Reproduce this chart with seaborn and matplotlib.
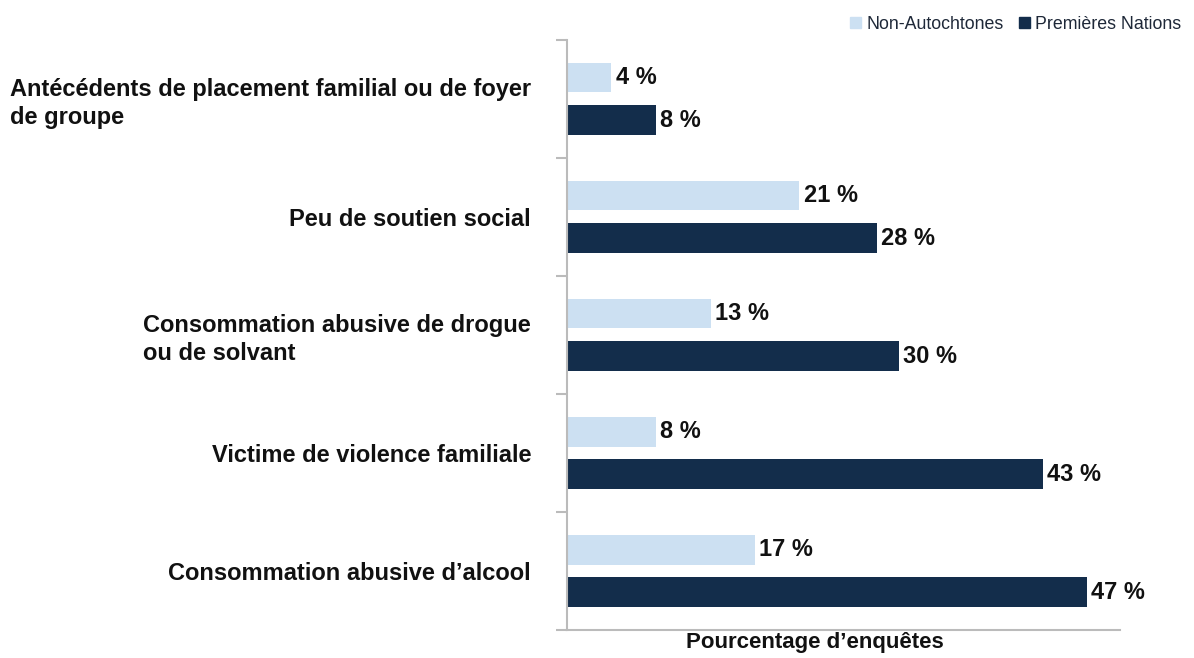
import numpy as np
import pandas as pd
import matplotlib
matplotlib.use("Agg")
import matplotlib.pyplot as plt
import seaborn as sns

categories = [
    "Antécédents de placement familial ou de foyer\nde groupe",
    "Peu de soutien social",
    "Consommation abusive de drogue\nou de solvant",
    "Victime de violence familiale",
    "Consommation abusive d\u2019alcool",
]
non_autochtones = [4, 21, 13, 8, 17]
premieres_nations = [8, 28, 30, 43, 47]
groups = ["Non-Autochtones", "Premières Nations"]
colors = ["#CCE0F2", "#132D4B"]

df = pd.DataFrame({
    "categorie": categories * 2,
    "pourcentage": non_autochtones + premieres_nations,
    "groupe": [groups[0]] * len(categories) + [groups[1]] * len(categories),
})

sns.set_theme(style="white")
plt.rcParams["font.family"] = ["Liberation Sans", "DejaVu Sans"]

fig = plt.figure(figsize=(11.94, 6.58), dpi=100)
ax = fig.add_axes([0.475, 0.0426, 0.463, 0.897])

sns.barplot(data=df, y="categorie", x="pourcentage", hue="groupe",
            orient="h", palette=colors, saturation=1, width=0.72, gap=0.3,
            hue_order=groups, order=categories, ax=ax, legend=False,
            edgecolor="none")

for container, vals in zip(ax.containers, [non_autochtones, premieres_nations]):
    ax.bar_label(container, labels=[f"{v} %" for v in vals], padding=3,
                 fontsize=17, fontweight="bold", color="#111111")

ax.set_xlim(0, 50)
ax.set_ylim(len(categories) - 0.5, -0.5)
ax.set_xticks([])
ax.set_ylabel("")
ax.set_xlabel("Pourcentage d\u2019enquêtes", fontsize=16, fontweight="bold",
              color="#111111", va="top")
ax.xaxis.set_label_coords((815 - 567) / 553, -0.004)

ax.tick_params(axis="y", which="major", length=0, pad=26)
for lbl in ax.get_yticklabels():
    lbl.set_fontsize(17)
    lbl.set_fontweight("bold")
    lbl.set_color("#111111")
    lbl.set_multialignment("left")
    lbl.set_linespacing(1.28)

ax.set_yticks(np.arange(-0.5, len(categories), 1), minor=True)
ax.tick_params(axis="y", which="minor", left=True, length=8, width=1.5,
               color="#BBBBBB")

for side in ["top", "right"]:
    ax.spines[side].set_visible(False)
for side in ["left", "bottom"]:
    ax.spines[side].set_color("#BBBBBB")
    ax.spines[side].set_linewidth(1.5)

handles = [plt.Rectangle((0, 0), 1, 1, color=c) for c in colors]
leg = fig.legend(handles, groups, loc="center right",
                 bbox_to_anchor=(1.003, 0.963), ncol=2, frameon=False,
                 fontsize=12.8, handlelength=0.6, handleheight=0.6,
                 handletextpad=0.3, columnspacing=0.9)
for t in leg.get_texts():
    t.set_color("#1E2838")

fig.savefig("out.png", dpi=100)
